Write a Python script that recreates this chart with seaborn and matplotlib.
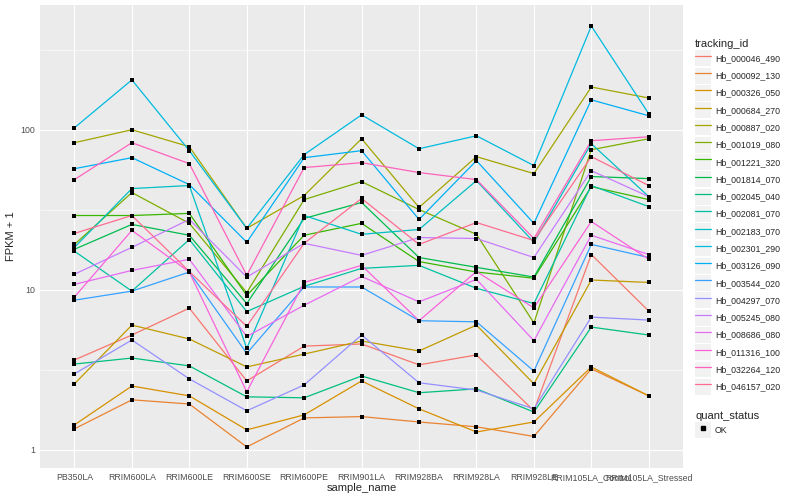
import matplotlib
matplotlib.use("Agg")
import matplotlib.pyplot as plt
from matplotlib.lines import Line2D
from matplotlib.patches import Rectangle
from matplotlib.ticker import FixedLocator, FixedFormatter
import numpy as np
import pandas as pd
import seaborn as sns

samples = ["PB350LA", "RRIM600LA", "RRIM600LE", "RRIM600SE", "RRIM600PE",
           "RRIM901LA", "RRIM928BA", "RRIM928LA", "RRIM928LE",
           "RRIM105LA_Control", "RRIM105LA_Stressed"]

tracking_ids = ["Hb_000046_490", "Hb_000092_130", "Hb_000326_050", "Hb_000684_270",
                "Hb_000887_020", "Hb_001019_080", "Hb_001221_320", "Hb_001814_070",
                "Hb_002045_040", "Hb_002081_070", "Hb_002183_070", "Hb_002301_290",
                "Hb_003126_090", "Hb_003544_020", "Hb_004297_070", "Hb_005245_080",
                "Hb_008686_080", "Hb_011316_100", "Hb_032264_120", "Hb_046157_020"]

# FPKM + 1, one list per gene (same order as samples)
hb_000046_490 = [3.64, 5.21, 7.67, 2.69, 4.44, 4.58, 3.39, 3.91, 1.75, 16.6, 7.35]
hb_000092_130 = [1.35, 2.05, 1.93, 1.04, 1.58, 1.61, 1.49, 1.39, 1.21, 3.20, 2.17]
hb_000326_050 = [1.43, 2.50, 2.17, 1.33, 1.65, 2.69, 1.80, 1.29, 1.49, 3.29, 2.17]
hb_000684_270 = [2.58, 6.01, 4.92, 3.29, 3.96, 4.78, 4.14, 6.01, 2.58, 11.5, 11.1]
hb_000887_020 = [83.0, 100, 78.4, 24.2, 38.8, 87.9, 32.7, 67.9, 53.2, 185, 158]
hb_001019_080 = [19.2, 40.5, 26.0, 9.6, 36.6, 47.4, 31.7, 22.2, 6.2, 75.0, 87.9]
hb_001221_320 = [29.1, 29.1, 30.0, 9.2, 21.9, 26.0, 15.0, 12.9, 11.8, 44.1, 36.6]
hb_001814_070 = [17.9, 25.6, 21.9, 8.2, 27.9, 35.1, 15.9, 13.8, 12.0, 51.0, 49.5]
hb_002045_040 = [3.43, 3.74, 3.34, 2.14, 2.11, 2.89, 2.27, 2.40, 1.72, 5.84, 5.21]
hb_002081_070 = [17.4, 9.8, 20.6, 7.3, 10.5, 13.6, 14.2, 10.2, 8.2, 44.8, 33.1]
hb_002183_070 = [18.4, 42.9, 44.8, 4.3, 29.1, 22.2, 23.8, 48.1, 19.8, 81.8, 38.2]
hb_002301_290 = [102.9, 205, 74.0, 24.2, 69.9, 124, 76.1, 91.7, 59.7, 445, 125.8]
hb_003126_090 = [57.1, 66.9, 45.4, 19.8, 66.9, 74.0, 27.5, 64.1, 26.0, 153.8, 122.3]
hb_003544_020 = [8.6, 9.8, 12.9, 4.0, 10.4, 10.4, 6.4, 6.3, 3.1, 19.2, 15.9]
hb_004297_070 = [2.98, 4.85, 2.77, 1.75, 2.54, 5.21, 2.62, 2.36, 1.80, 6.74, 6.46]
hb_005245_080 = [12.5, 18.4, 27.5, 12.0, 19.5, 16.4, 21.2, 20.9, 15.9, 55.5, 38.2]
hb_008686_080 = [10.8, 13.2, 15.5, 5.1, 8.0, 12.1, 8.4, 11.6, 4.8, 21.9, 16.6]
hb_011316_100 = [9.0, 23.5, 12.9, 2.3, 11.1, 14.2, 6.4, 13.0, 7.7, 26.7, 15.5]
hb_032264_120 = [48.8, 83.0, 61.4, 12.3, 58.0, 62.3, 54.0, 48.8, 20.9, 85.4, 90.4]
hb_046157_020 = [22.5, 29.1, 13.0, 5.9, 19.5, 37.2, 19.2, 26.3, 20.3, 67.9, 44.8]

series = [hb_000046_490, hb_000092_130, hb_000326_050, hb_000684_270, hb_000887_020,
          hb_001019_080, hb_001221_320, hb_001814_070, hb_002045_040, hb_002081_070,
          hb_002183_070, hb_002301_290, hb_003126_090, hb_003544_020, hb_004297_070,
          hb_005245_080, hb_008686_080, hb_011316_100, hb_032264_120, hb_046157_020]

# ggplot2 hue_pal() for 20 levels
colors = ["#F8766D", "#EA8331", "#D89000", "#C09B00", "#A3A500", "#7CAE00", "#39B600",
          "#00BB4E", "#00BF7D", "#00C1A3", "#00BFC4", "#00BAE0", "#00B0F6", "#35A2FF",
          "#9590FF", "#C77CFF", "#E76BF3", "#FA62DB", "#FF62BC", "#FF6C91"]

df = pd.DataFrame(
    [(tid, s, v) for tid, vals in zip(tracking_ids, series) for s, v in zip(samples, vals)],
    columns=["tracking_id", "sample_name", "fpkm1"],
)
df["quant_status"] = "OK"

sns.set_style("white")
plt.rcParams["font.family"] = ["Liberation Sans", "DejaVu Sans"]

fig = plt.figure(figsize=(8, 5), dpi=100)
ax = fig.add_axes([0.05, 0.064, 0.804, 0.926])
ax.set_facecolor("#EBEBEB")

sns.lineplot(data=df, x="sample_name", y="fpkm1", hue="tracking_id",
             hue_order=tracking_ids, palette=colors, estimator=None, sort=False,
             linewidth=0.9, legend=False, ax=ax)
sns.scatterplot(data=df, x="sample_name", y="fpkm1", color="black", marker="s",
                s=7, linewidth=0, legend=False, zorder=3, ax=ax)

ax.set_yscale("log")
lo, hi = np.log10(df["fpkm1"].min()), np.log10(df["fpkm1"].max())
pad = 0.05 * (hi - lo)
ax.set_ylim(10 ** (lo - pad), 10 ** (hi + pad))
ax.set_xlim(-0.6, len(samples) - 0.4)

ax.yaxis.set_major_locator(FixedLocator([1, 10, 100]))
ax.yaxis.set_major_formatter(FixedFormatter(["1", "10", "100"]))
ax.yaxis.set_minor_locator(FixedLocator([10 ** 0.5, 10 ** 1.5, 10 ** 2.5]))
ax.yaxis.set_minor_formatter(FixedFormatter(["", "", ""]))

ax.grid(True, which="major", color="white", linewidth=0.8)
ax.grid(True, which="minor", axis="y", color="white", linewidth=0.4)
ax.set_axisbelow(True)
for sp in ax.spines.values():
    sp.set_visible(False)
ax.tick_params(which="major", length=2, width=0.6, color="#333333",
               labelsize=6.3, labelcolor="#4D4D4D", pad=1.5)
ax.tick_params(which="minor", length=0)
ax.set_xlabel("sample_name", fontsize=8, labelpad=1)
ax.set_ylabel("FPKM + 1", fontsize=8, labelpad=3)

# legend keys: grey box with the line drawn over it, like ggplot
key_bg = dict(facecolor="#F2F2F2", edgecolor="none")
key_kw = dict(frameon=False, fontsize=6.3, title_fontsize=8, handlelength=1.8,
              handleheight=2.4, labelspacing=0.17, handletextpad=0.45,
              alignment="left", borderpad=0, borderaxespad=0, loc="upper left")
handles = [(Rectangle((0, 0), 1, 1, **key_bg), Line2D([], [], color=c, lw=0.9)) for c in colors]
leg1 = fig.legend(handles, tracking_ids, bbox_to_anchor=(0.869, 0.922),
                  title="tracking_id", **key_kw)

ok_handle = (Rectangle((0, 0), 1, 1, **key_bg),
             Line2D([], [], ls="none", marker="s", ms=2.4, color="black"))
leg2 = fig.legend([ok_handle], ["OK"], bbox_to_anchor=(0.869, 0.178),
                  title="quant_status", **key_kw)

fig.savefig("out.png", dpi=100)
plt.close(fig)
